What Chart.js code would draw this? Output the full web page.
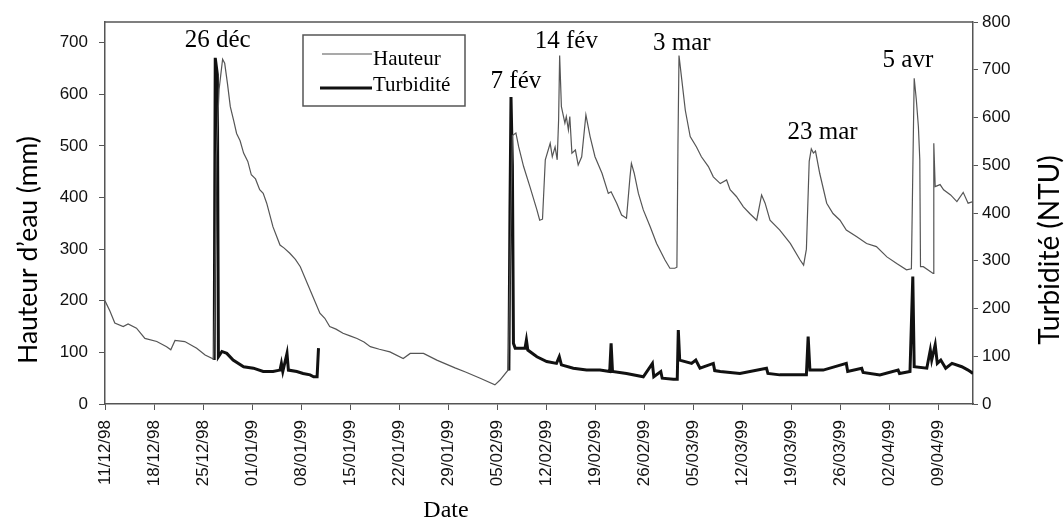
<!DOCTYPE html>
<html>
<head>
<meta charset="utf-8">
<script src="https://cdn.jsdelivr.net/npm/chart.js@4.4.1/dist/chart.umd.min.js"></script>
<style>
  html, body { margin: 0; padding: 0; background: #fff; }
</style>
</head>
<body>
<canvas id="myChart" width="1064" height="522"></canvas>
<script>
// dates every 7 days from 11/12/98 (day 0)
const dateLabels = ['11/12/98', '18/12/98', '25/12/98', '01/01/99', '08/01/99', '15/01/99',
  '22/01/99', '29/01/99', '05/02/99', '12/02/99', '19/02/99', '26/02/99', '05/03/99',
  '12/03/99', '19/03/99', '26/03/99', '02/04/99', '09/04/99'];

// Hauteur d'eau (mm), x = days since 11/12/98
const hauteurDays = [0, 0.7, 1.4, 2.6, 3.3, 4.5, 5.7, 7.4, 8.8, 9.4, 10.0, 11.4, 13.1, 14.3, 15.5,
  15.7, 15.9, 16.3, 16.8, 17.1, 17.5, 17.9, 18.4, 18.8, 19.3, 19.8, 20.4, 20.9, 21.5, 22.1, 22.6,
  23.1, 24.0, 25.0, 25.6, 26.4, 27.2, 27.9,
  29.3, 30.7, 31.4, 32.1, 33.0, 34.0, 35.0, 36.0, 37.0, 37.9, 39.2, 40.7, 42.6, 43.6, 45.5, 47.4,
  50.0, 51.5, 53.6, 55.7, 56.4,
  57.6, 57.9, 58.2, 58.7, 59.1, 59.8, 60.7, 61.7, 62.1, 62.5, 62.9, 63.6, 63.9, 64.3, 64.6, 64.8,
  64.95, 65.2, 65.7, 65.9, 66.2, 66.4, 66.7, 67.2, 67.6, 68.1, 68.7, 69.3, 70.0, 71.0, 71.9, 72.3,
  73.1, 73.8, 74.5, 75.0, 75.2, 75.6, 76.2, 76.9, 77.9, 78.8, 80.0, 80.7, 81.4, 81.7, 81.85, 82.0,
  82.4, 82.9, 83.6, 84.5, 85.2, 86.2, 86.9, 87.9, 88.8, 89.3, 90.2, 91.2, 92.1, 93.1, 93.8, 94.3,
  95.0, 96.4, 97.9, 99.3, 99.8, 100.2, 100.6, 100.9, 101.2, 101.5, 102.1, 103.1, 104.0, 105.0,
  105.9, 107.4, 108.8, 110.2, 111.7, 113.1, 114.5, 115.2, 115.4, 115.6, 115.9, 116.2, 116.4,
  116.5, 116.9, 118.3, 118.4, 118.6, 119.3, 119.8, 120.8, 121.7, 122.6, 123.3, 124.0];
const hauteurMm = [200, 180, 157, 150, 155, 147, 127, 121, 111, 105, 123, 121, 108, 95, 87,
  200, 480, 610, 668, 660, 620, 576, 548, 524, 510, 486, 470, 444, 436, 415, 408,
  389, 343, 308, 302, 292, 280, 266,
  221, 176, 166, 150, 145, 137, 132, 127, 120, 111, 106, 101, 88, 98, 98, 85,
  70, 62, 50, 37, 46,
  66, 300, 520, 525, 498, 460, 421, 376, 356, 358, 473, 505, 479, 498, 473, 550,
  675, 576, 544, 557, 531, 557, 486, 492, 463, 479, 560, 518, 479, 447, 408, 411,
  389, 366, 360, 440, 466, 447, 408, 376, 343, 311, 279, 263, 263, 265, 500, 675,
  628, 569, 518, 498, 479, 460, 440, 427, 434, 415, 402, 382, 369, 356, 405, 389,
  356, 337, 311, 279, 269, 300, 470, 494, 486, 490, 447, 389, 369, 356,
  337, 324, 311, 305, 285, 272, 260, 262, 450, 631, 590, 537, 473,
  266, 266, 253, 505, 421, 425, 415, 405, 392, 410, 389, 392];

// Turbidité (NTU), null = no record
const turbDays = [15.6, 15.75, 16.05, 16.2, 16.7, 17.4, 18.3, 19.8, 21.2, 22.6, 24.0, 25.0, 25.2,
  25.4, 26.0, 26.2, 27.4, 28.3, 29.3, 29.8, 30.3, 30.5, 31,
  57.7, 57.85, 58.0, 58.2, 58.35, 58.6, 59.3, 60.0, 60.2, 60.4, 61.7, 63.1, 64.5, 64.9, 65.2,
  66.9, 68.8, 70.7, 72.1, 72.3, 72.5, 74.5, 76.9, 78.2, 78.4, 79.4, 79.6, 81.2, 81.75, 81.9,
  82.1, 83.8, 84.4, 85.0, 86.9, 87.1, 87.9, 90.7, 94.5, 94.7, 96.4, 100.2, 100.45, 100.7,
  102.6, 105.9, 106.1, 108.1, 108.3, 110.7, 113.3, 113.5, 115.0, 115.4, 115.6, 117.4, 117.9,
  118.1, 118.6, 118.9, 119.4, 120.1, 121.0, 122.4, 123.3, 124.0];
const turbNtu = [92, 725, 690, 99, 110, 106, 92, 78, 75, 68, 68, 71, 85,
  68, 106, 71, 68, 64, 61, 57, 57, 117, null,
  70, 400, 643, 500, 127, 117, 117, 117, 134, 113, 99, 89, 85, 99, 82,
  75, 71, 71, 68, 127, 68, 64, 57, 85, 57, 68, 54, 52, 52, 155,
  92, 85, 92, 75, 85, 70, 68, 64, 75, 64, 61, 61, 141, 71,
  71, 85, 68, 75, 66, 61, 71, 64, 68, 267, 78, 75, 113,
  92, 124, 85, 92, 75, 85, 78, 71, 64];

// event labels
const eventLabels = ['26 déc', '7 fév', '14 fév', '3 mar', '23 mar', '5 avr'];
const eventDays = [16.1, 58.7, 65.9, 82.4, 102.5, 114.7];
const eventLevels = [705, 624, 702, 699, 527, 666];

const tickFont = { family: 'Liberation Sans', size: 17 };
const serif = 'Liberation Serif';

const extras = {
  id: 'extras',
  afterDraw(chart) {
    const ctx = chart.ctx;
    const a = chart.chartArea;
    const xs = chart.scales.x, ys = chart.scales.y;
    ctx.save();
    // top frame line
    ctx.strokeStyle = '#555';
    ctx.lineWidth = 1.5;
    ctx.beginPath();
    ctx.moveTo(a.left, a.top);
    ctx.lineTo(a.right, a.top);
    ctx.stroke();

    // event labels
    ctx.fillStyle = '#000';
    ctx.font = '25px "' + serif + '"';
    ctx.textAlign = 'center';
    ctx.textBaseline = 'middle';
    eventLabels.forEach((t, i) => {
      ctx.fillText(t, xs.getPixelForValue(eventDays[i]), ys.getPixelForValue(eventLevels[i]));
    });

    // legend
    ctx.strokeStyle = '#555';
    ctx.lineWidth = 1.5;
    ctx.strokeRect(303, 35, 162, 71);
    ctx.strokeStyle = '#555';
    ctx.lineWidth = 1.2;
    ctx.beginPath(); ctx.moveTo(322, 54); ctx.lineTo(372, 54); ctx.stroke();
    ctx.strokeStyle = '#111';
    ctx.lineWidth = 3;
    ctx.beginPath(); ctx.moveTo(320, 88); ctx.lineTo(372, 88); ctx.stroke();
    ctx.font = '21px "' + serif + '"';
    ctx.textAlign = 'left';
    ctx.fillText('Hauteur', 373, 59);
    ctx.fillText('Turbidité', 373, 85);

    // x title
    ctx.font = '24px "' + serif + '"';
    ctx.textAlign = 'center';
    ctx.fillText('Date', 446, 511);

    // axis titles, both read bottom to top
    ctx.font = '26.5px Lato';
    ctx.save();
    ctx.translate(28, 250);
    ctx.rotate(-Math.PI / 2);
    ctx.fillText('Hauteur d’eau (mm)', 0, 0);
    ctx.restore();
    ctx.font = '28px Lato';
    ctx.translate(1050, 250);
    ctx.rotate(-Math.PI / 2);
    ctx.fillText('Turbidité (NTU)', 0, 0);
    ctx.restore();
  }
};

const config = {
  type: 'line',
  data: {
    datasets: [
      {
        label: 'Hauteur',
        data: hauteurDays.map((d, i) => ({ x: d, y: hauteurMm[i] })),
        yAxisID: 'y',
        borderColor: '#555',
        borderWidth: 1.2,
        pointRadius: 0,
        tension: 0,
      },
      {
        label: 'Turbidité',
        data: turbDays.map((d, i) => ({ x: d, y: turbNtu[i] })),
        yAxisID: 'y1',
        borderColor: '#111',
        borderWidth: 3,
        pointRadius: 0,
        tension: 0,
        spanGaps: false,
      },
    ],
  },
  options: {
    responsive: false,
    animation: false,
    layout: { padding: { top: 22 } },
    plugins: { legend: { display: false }, tooltip: { enabled: false } },
    scales: {
      x: {
        type: 'linear',
        min: 0,
        max: 124,
        afterFit: s => { s.height = 118; },
        border: { color: '#555', width: 1.5 },
        grid: { drawOnChartArea: false, tickLength: 6, color: '#555' },
        ticks: {
          stepSize: 7, includeBounds: false, autoSkip: false,
          minRotation: 90, maxRotation: 90, padding: 10,
          color: '#111', font: tickFont,
          callback: v => dateLabels[Math.round(v / 7)] || '',
        },
      },
      y: {
        position: 'left',
        min: 0,
        max: 740,
        afterFit: s => { s.width = 105; },
        border: { color: '#555', width: 1.5 },
        grid: { drawOnChartArea: false, tickLength: 6, color: '#555' },
        ticks: { stepSize: 100, includeBounds: false, padding: 11, color: '#111', font: tickFont },
      },
      y1: {
        position: 'right',
        min: 0,
        max: 800,
        afterFit: s => { s.width = 91; },
        border: { color: '#555', width: 1.5 },
        grid: { drawOnChartArea: false, tickLength: 5, color: '#555' },
        ticks: { stepSize: 100, padding: 4, color: '#111', font: tickFont },
      },
    },
  },
  plugins: [extras],
};

const myChart = new Chart(document.getElementById('myChart'), config);
</script>
</body>
</html>
